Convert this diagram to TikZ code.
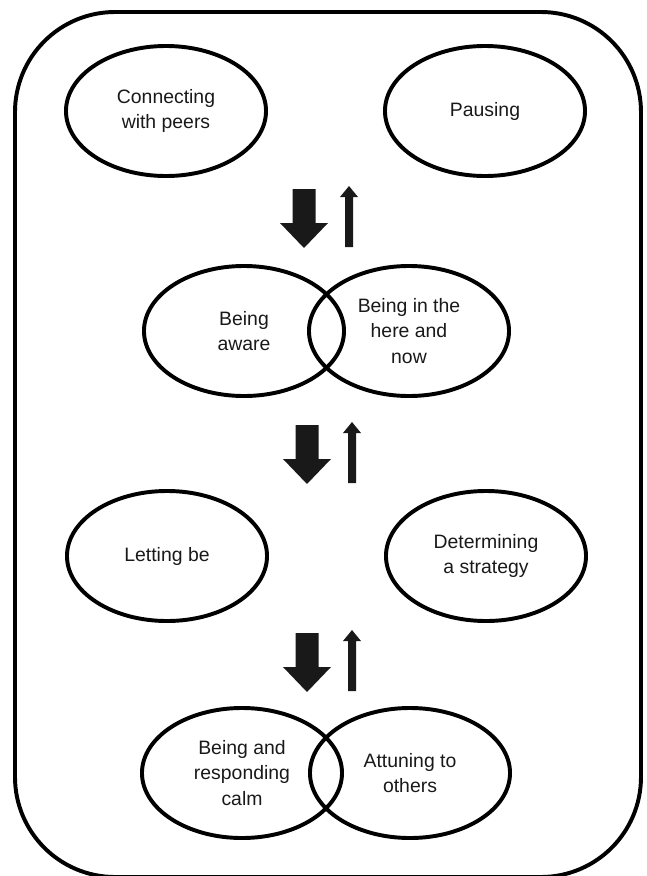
\documentclass[tikz,border=0pt]{standalone}
\usepackage{fontspec}
\setmainfont{Liberation Sans}
\usetikzlibrary{shapes.geometric}

\begin{document}
\begin{tikzpicture}
[x=0.025cm,y=-0.025cm,
every node/.style={shape=ellipse,draw,align=center,line width=2.8pt,
  minimum width=5cm,minimum height=3.25cm,inner sep=0pt,
  font=\fontsize{13.8}{18.2}\selectfont,text=black!90},
frame/.style={line width=2.8pt,rounded corners=2.5cm}]

\useasboundingbox (0,0) rectangle (646,876);
\draw[frame] (15,12) rectangle (641,877);

\node (connect) at (166,111) {Connecting\\with peers};
\node (pausing) at (485,111) {Pausing};

\node (aware) at (244,331) {Being\\aware};
\node (herenow) at (409,331) {Being in the\\here and\\now};

\node (letting) at (167,556) {Letting be};
\node (strategy) at (486,556) {Determining\\a strategy};

\node (calm) at (242,773) {Being and\\responding\\calm};
\node (attuning) at (410,773) {Attuning to\\others};

% block arrows between the rows
\foreach \x/\y in {304/189,307/425,307/633}
{
\fill[black!90] (\x-11.5,\y) -- (\x+11.5,\y) -- (\x+11.5,\y+34) -- (\x+24,\y+34)
  -- (\x,\y+59) -- (\x-24,\y+34) -- (\x-11.5,\y+34) -- cycle;
\fill[black!90] (\x+41,\y+58) -- (\x+49,\y+58) -- (\x+49,\y+8) -- (\x+54,\y+8)
  -- (\x+45,\y-3) -- (\x+36,\y+8) -- (\x+41,\y+8) -- cycle;
}
\end{tikzpicture}
\end{document}
